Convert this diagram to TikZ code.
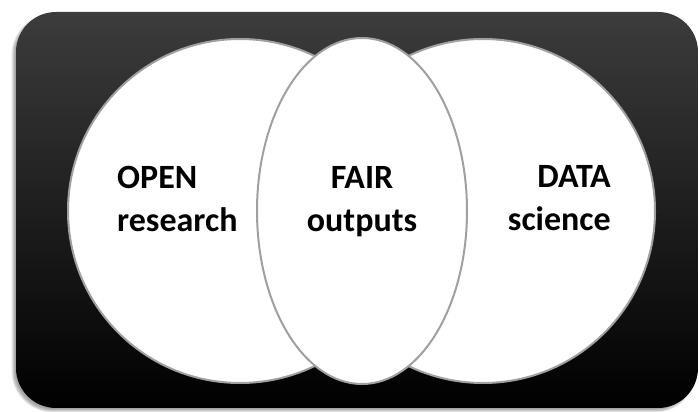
\documentclass[tikz,border=0pt]{standalone}
\usepackage{fontspec}
\setmainfont{Carlito}
\usepackage{tikz}
\usetikzlibrary{shadows.blur}
\definecolor{rimgray}{HTML}{A0A0A0}
\definecolor{topgray}{HTML}{3C3C3C}

\tikzset{
  bubble/.style={fill=white, draw=rimgray, line width=2pt},
  tag/.style={font=\fontsize{34}{43}\selectfont\bfseries, inner sep=0pt}
}

\begin{document}
\begin{tikzpicture}[x=1pt, y=1pt]
\useasboundingbox (0,0) rectangle (699,412);
\path[shade, top color=topgray, middle color=black, bottom color=black, rounded corners=40pt,
  blur shadow={shadow xshift=-3pt, shadow yshift=-3pt, shadow blur steps=8, shadow opacity=35}]
  (16,4) rectangle (698,400);
\draw[bubble] (240,201) circle [radius=172];
\draw[bubble] (483,201) circle [radius=172];
\draw[bubble] (362,201) ellipse [x radius=105, y radius=173];
\node[tag, align=left, anchor=west] (open) at (117,213.5) {OPEN\\research};
\node[tag, align=center] (fair) at (362,210) {FAIR\\outputs};
\node[tag, align=right, anchor=east] (data) at (611,213.5) {DATA\\science};
\end{tikzpicture}
\end{document}
